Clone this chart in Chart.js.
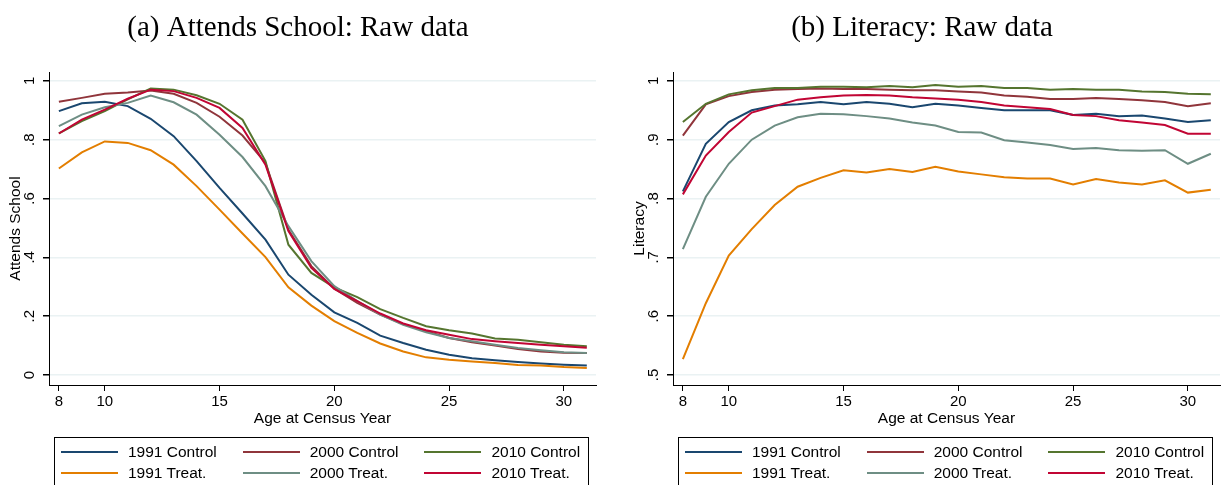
<!DOCTYPE html>
<html>
<head>
<meta charset="utf-8">
<script src="https://cdn.jsdelivr.net/npm/chart.js@4.4.1/dist/chart.umd.min.js"></script>
<style>
  body { margin: 0; background: #fff; width: 1225px; height: 485px; overflow: hidden; position: relative; }
  .panel { position: absolute; top: 0; height: 485px; }
  #leftPanel { left: 0; width: 612px; }
  #rightPanel { left: 612px; width: 613px; }
  .legend { position: absolute; top: 437px; width: 535px; height: 60px; border: 1px solid #000; box-sizing: border-box;
            font-family: "Liberation Sans", Arial, sans-serif; font-size: 15.5px; color: #000; }
  .legend .item { position: absolute; height: 20px; }
  .legend .swatch { position: absolute; left: 0; top: 9px; width: 57px; height: 2px; }
  .legend .txt { position: absolute; left: 67px; top: 0; line-height: 20px; white-space: nowrap; }
</style>
</head>
<body>
<div class="panel" id="leftPanel"><canvas id="schoolChart" width="612" height="485"></canvas><div class="legend" id="schoolLegend" style="left:54px"></div></div>
<div class="panel" id="rightPanel"><canvas id="literacyChart" width="613" height="485"></canvas><div class="legend" id="literacyLegend" style="left:66px"></div></div>
<script>
// ages 8..31
const ages = [8, 9, 10, 11, 12, 13, 14, 15, 16, 17, 18, 19, 20, 21, 22, 23, 24, 25, 26, 27, 28, 29, 30, 31];
const xTicks = [8, 10, 15, 20, 25, 30];
const schoolTicks = [0, 0.2, 0.4, 0.6, 0.8, 1];
const literacyTicks = [0.5, 0.6, 0.7, 0.8, 0.9, 1];

const seriesLabels = ['1991 Control', '2000 Control', '2010 Control', '1991 Treat.', '2000 Treat.', '2010 Treat.'];
const seriesColors = ['#1a476f', '#90353b', '#55752f', '#e37e00', '#6e8e84', '#c10534'];

// (a) Attends School
const school1991Control = [0.897, 0.924, 0.929, 0.914, 0.871, 0.812, 0.727, 0.636, 0.549, 0.460, 0.341, 0.273, 0.213, 0.177, 0.134, 0.109, 0.086, 0.069, 0.057, 0.050, 0.044, 0.039, 0.035, 0.032];
const school2000Control = [0.929, 0.942, 0.956, 0.960, 0.967, 0.956, 0.925, 0.878, 0.814, 0.721, 0.494, 0.370, 0.293, 0.245, 0.205, 0.173, 0.149, 0.126, 0.111, 0.100, 0.088, 0.080, 0.076, 0.075];
const school2010Control = [0.821, 0.863, 0.897, 0.937, 0.974, 0.970, 0.951, 0.922, 0.868, 0.727, 0.443, 0.347, 0.298, 0.265, 0.224, 0.194, 0.166, 0.152, 0.141, 0.124, 0.120, 0.111, 0.103, 0.098];
const school1991Treat = [0.702, 0.757, 0.794, 0.789, 0.764, 0.715, 0.642, 0.562, 0.481, 0.401, 0.298, 0.236, 0.183, 0.143, 0.107, 0.080, 0.060, 0.052, 0.046, 0.041, 0.034, 0.032, 0.027, 0.024];
const school2000Treat = [0.846, 0.885, 0.910, 0.925, 0.950, 0.927, 0.885, 0.817, 0.741, 0.642, 0.506, 0.387, 0.302, 0.251, 0.205, 0.171, 0.145, 0.126, 0.115, 0.103, 0.092, 0.084, 0.077, 0.075];
const school2010Treat = [0.821, 0.868, 0.902, 0.939, 0.970, 0.965, 0.942, 0.908, 0.840, 0.715, 0.489, 0.364, 0.293, 0.251, 0.209, 0.175, 0.152, 0.137, 0.122, 0.115, 0.109, 0.103, 0.098, 0.093];

// (b) Literacy
const lit1991Control = [0.812, 0.893, 0.930, 0.950, 0.958, 0.960, 0.964, 0.960, 0.964, 0.961, 0.955, 0.961, 0.958, 0.954, 0.950, 0.950, 0.950, 0.942, 0.944, 0.940, 0.941, 0.936, 0.930, 0.933];
const lit2000Control = [0.907, 0.960, 0.974, 0.981, 0.985, 0.986, 0.987, 0.986, 0.986, 0.985, 0.984, 0.984, 0.982, 0.980, 0.975, 0.973, 0.969, 0.969, 0.971, 0.969, 0.967, 0.964, 0.957, 0.962];
const lit2010Control = [0.930, 0.961, 0.977, 0.984, 0.988, 0.988, 0.990, 0.990, 0.989, 0.991, 0.989, 0.993, 0.990, 0.991, 0.988, 0.988, 0.985, 0.986, 0.985, 0.985, 0.982, 0.981, 0.978, 0.977];
const lit1991Treat = [0.527, 0.622, 0.703, 0.748, 0.789, 0.820, 0.835, 0.848, 0.844, 0.850, 0.845, 0.854, 0.846, 0.841, 0.836, 0.834, 0.834, 0.824, 0.833, 0.827, 0.824, 0.831, 0.810, 0.815];
const lit2000Treat = [0.714, 0.803, 0.859, 0.900, 0.924, 0.938, 0.944, 0.943, 0.940, 0.936, 0.929, 0.924, 0.913, 0.912, 0.899, 0.895, 0.891, 0.884, 0.886, 0.882, 0.881, 0.882, 0.859, 0.876];
const lit2010Treat = [0.807, 0.873, 0.913, 0.946, 0.957, 0.968, 0.972, 0.975, 0.976, 0.975, 0.972, 0.970, 0.968, 0.964, 0.958, 0.955, 0.952, 0.942, 0.940, 0.933, 0.929, 0.925, 0.910, 0.910];

const sansFont = '"Liberation Sans", Arial, sans-serif';

function fmtTick(v) {
    if (v === 0) return '0';
    if (v === 1) return '1';
    return v.toFixed(1).replace(/^0/, '');
}

function makeChart(canvasId, title, yTitle, yMin, yMax, yTicks, series, padLeft, padRight) {
    const datasets = series.map((vals, i) => ({
        label: seriesLabels[i],
        data: ages.map((a, j) => ({ x: a, y: vals[j] })),
        borderColor: seriesColors[i],
        backgroundColor: seriesColors[i],
        borderWidth: 2,
        pointRadius: 0,
        tension: 0,
        fill: false,
        order: series.length - i // last series drawn on top
    }));

    return new Chart(document.getElementById(canvasId), {
        type: 'line',
        data: { datasets: datasets },
        options: {
            responsive: false,
            animation: false,
            devicePixelRatio: 1,
            layout: { padding: { left: padLeft, right: padRight, top: 0, bottom: 55 } },
            plugins: {
                legend: { display: false },
                tooltip: { enabled: false },
                title: {
                    display: true,
                    text: title,
                    color: '#000',
                    font: { family: '"Liberation Serif", "Times New Roman", serif', size: 29, weight: 'normal' },
                    padding: { top: 11, bottom: 26.2 }
                }
            },
            scales: {
                x: {
                    type: 'linear',
                    min: 7.57,
                    max: 31.4,
                    afterBuildTicks: s => { s.ticks = xTicks.map(v => ({ value: v })); },
                    afterFit: s => { s.height = 45; },
                    border: { display: true, color: '#000', width: 1 },
                    grid: { drawOnChartArea: false, drawTicks: true, tickLength: 6, tickColor: '#000' },
                    ticks: { color: '#000', font: { family: sansFont, size: 15 }, padding: 2, maxRotation: 0, autoSkip: false },
                    title: { display: true, text: 'Age at Census Year', color: '#000', font: { family: sansFont, size: 15.5 }, padding: { top: 0, bottom: 2 } }
                },
                y: {
                    min: yMin,
                    max: yMax,
                    afterBuildTicks: s => { s.ticks = yTicks.map(v => ({ value: v })); },
                    afterFit: s => { s.width = 49; },
                    border: { display: true, color: '#000', width: 1 },
                    grid: { color: '#eaf2f3', lineWidth: 1.5, drawTicks: true, tickLength: 6, tickColor: '#000' },
                    ticks: {
                        color: '#000', font: { family: sansFont, size: 15 }, padding: 7,
                        minRotation: 90, maxRotation: 90, crossAlign: 'center', autoSkip: false,
                        callback: v => fmtTick(v)
                    },
                    title: { display: true, text: yTitle, color: '#000', font: { family: sansFont, size: 15.5 }, padding: { top: 6, bottom: 0 } }
                }
            }
        }
    });
}

function buildLegend(divId) {
    const box = document.getElementById(divId);
    seriesLabels.forEach((lab, i) => {
        const col = i % 3, row = Math.floor(i / 3);
        const item = document.createElement('div');
        item.className = 'item';
        item.style.left = (6 + col * 181.7) + 'px';
        item.style.top = (4 + row * 21) + 'px';
        const sw = document.createElement('div');
        sw.className = 'swatch';
        sw.style.background = seriesColors[i];
        const tx = document.createElement('div');
        tx.className = 'txt';
        tx.textContent = lab;
        item.appendChild(sw);
        item.appendChild(tx);
        box.appendChild(item);
    });
}

makeChart('schoolChart', '(a) Attends School: Raw data', 'Attends School', -0.034, 1.03, schoolTicks,
    [school1991Control, school2000Control, school2010Control, school1991Treat, school2000Treat, school2010Treat], 0, 16);
makeChart('literacyChart', '(b) Literacy: Raw data', 'Literacy', 0.483, 1.015, literacyTicks,
    [lit1991Control, lit2000Control, lit2010Control, lit1991Treat, lit2000Treat, lit2010Treat], 12, 5);
buildLegend('schoolLegend');
buildLegend('literacyLegend');
</script>
</body>
</html>
